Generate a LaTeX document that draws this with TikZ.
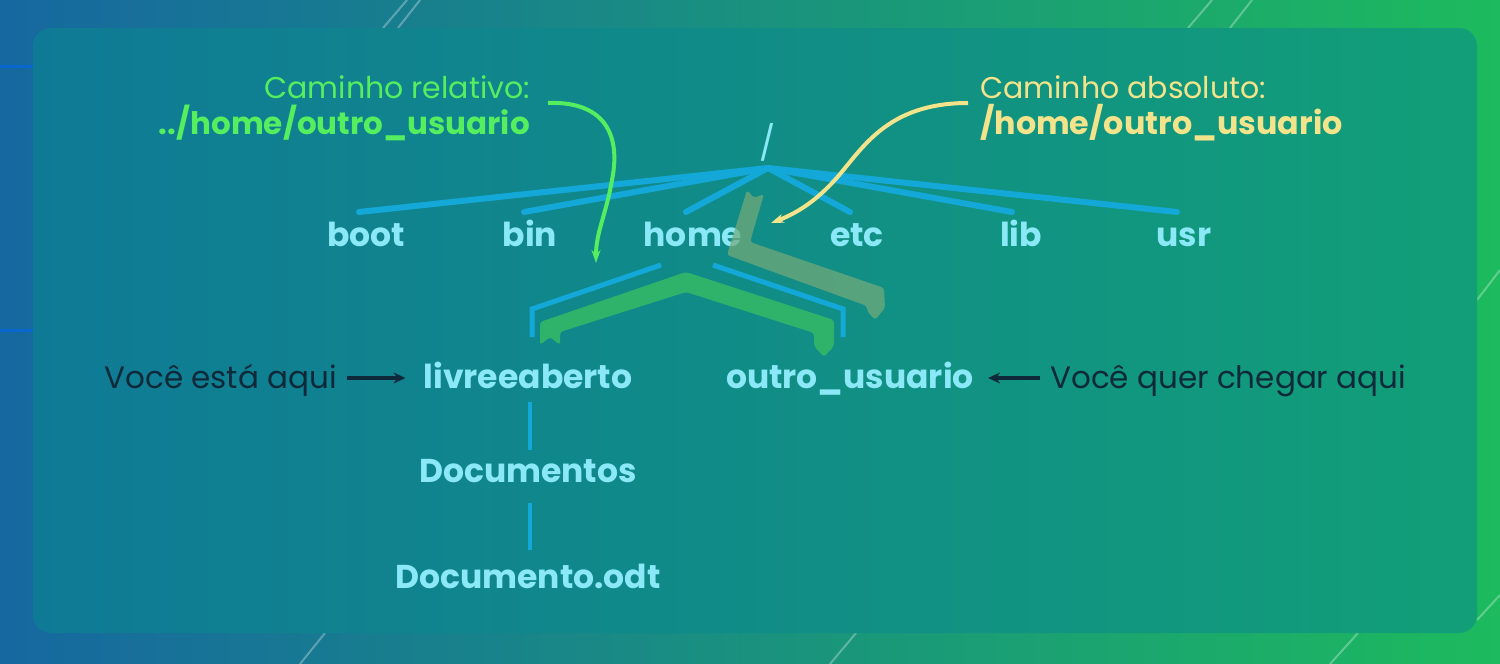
\documentclass[tikz,border=0pt]{standalone}
\usepackage{fontspec}
\setmainfont{Poppins}
\usetikzlibrary{arrows.meta,calc}
\definecolor{bgl}{HTML}{1668A0}
\definecolor{bgr}{HTML}{1DBA5E}
\definecolor{panl}{HTML}{0F7A96}
\definecolor{panr}{HTML}{129F78}
\definecolor{treeblue}{HTML}{14A8D8}
\definecolor{labelcyan}{HTML}{8AE8F7}
\definecolor{relgreen}{HTML}{55EE5F}
\definecolor{absyellow}{HTML}{F3E38A}
\definecolor{darktext}{HTML}{0E2A3A}
\definecolor{bandgreen}{HTML}{2FB36B}
\definecolor{bandtan}{HTML}{73AB7A}
\begin{document}
\begin{tikzpicture}[x=1pt,y=-1pt,
  lbl/.style={font=\bfseries\fontsize{33}{36}\selectfont, text=labelcyan, inner sep=0, anchor=base},
  note/.style={font=\fontsize{31}{36}\selectfont, text=darktext, inner sep=0, anchor=base},
  head/.style={font=\fontsize{30}{36}\selectfont, inner sep=0, anchor=base},
  pathtxt/.style={font=\bfseries\fontsize{31}{36}\selectfont, inner sep=0, anchor=base},
  treeline/.style={draw=treeblue, line width=6, line cap=round},
  subline/.style={draw=treeblue, line width=5},
  darkarrow/.style={draw=darktext, line width=4, -{Stealth[length=12, width=11]}},
  curvearrow/.style={line width=4, -{Stealth[length=13, width=9]}},
  streak/.style={draw=white, opacity=.3, line width=2}]
\useasboundingbox (0,0) rectangle (1500,664);
% background
\shade[left color=bgl, right color=bgr] (0,0) rectangle (1500,664);
\draw[streak] (383,28) -- (407,0);
\draw[streak] (398,28) -- (420,0);
\draw[streak] (1188,28) -- (1212,0);
\draw[streak] (1230,28) -- (1252,0);
\draw[streak] (300,664) -- (325,633);
\draw[streak] (830,664) -- (856,633);
\draw[streak] (1330,664) -- (1358,633);
\draw[streak] (1477,300) -- (1500,270);
\draw[streak] (1477,620) -- (1500,595);
\draw[draw=blue!60!cyan, opacity=.5, line width=3] (0,66) -- (33,66);
\draw[draw=blue!60!cyan, opacity=.5, line width=3] (0,330) -- (33,330);
% panel
\shade[left color=panl, right color=panr, rounded corners=18] (33,28) rectangle (1477,633);

% tree
\node[lbl, font=\fontsize{34}{36}\selectfont] (root) at (768,155) {/};
\coordinate (j) at (768,168);
\node[lbl] (boot) at (366,246) {boot};
\node[lbl] (bin)  at (530,246) {bin};
\node[lbl] (home) at (693,246) {home};
\node[lbl] (etc)  at (857,246) {etc};
\node[lbl] (lib)  at (1021,246) {lib};
\node[lbl] (usr)  at (1184,246) {usr};
\coordinate (eboot) at (359,212);
\coordinate (ebin) at (524,212);
\coordinate (ehome) at (686,212);
\coordinate (eetc) at (850,212);
\coordinate (elib) at (1012,212);
\coordinate (eusr) at (1177,212);
\foreach \e in {eboot,ebin,ehome,eetc,elib,eusr} \draw[treeline] (j) -- (\e);

\node[lbl] (livre) at (528,388) {livreeaberto};
\node[lbl] (outro) at (850,388) {outro\_usuario};
\node[lbl] (docs) at (528,482) {Documentos};
\node[lbl] (odt) at (528,588) {Documento.odt};

\coordinate (hl) at (661,265);
\coordinate (hr) at (713,265);
\draw[subline] (hl) -- (532,309) -- (532,337);
\draw[subline] (hr) -- (843,309) -- (843,337);
\draw[treeblue, line width=4] (530,402) -- (530,450);
\draw[treeblue, line width=4] (530,503) -- (530,550);

% relative path band
\fill[bandgreen, rounded corners=3] (540,345) -- (540,322) -- (686,272) -- (834,320) -- (834,346)
  -- (824,357) -- (814,346) -- (814,333) -- (686,292) -- (560,332) -- (560,345) -- (550,337) -- cycle;

% notes
\node[note, anchor=base east] (here) at (337,388) {Você está aqui};
\node[note, anchor=base west] (there) at (1050,388) {Você quer chegar aqui};
\draw[darkarrow] ($(here.base east)+(10,-10)$) -- ($(livre.base west)+(-18,-10)$);
\draw[darkarrow] ($(there.base west)+(-10,-10)$) -- ($(outro.base east)+(14,-10)$);

% absolute path band
\fill[bandtan, opacity=.72, rounded corners=3] (747,190) -- (754,198) -- (764,194) -- (750,242) -- (884,288)
  -- (885,308) -- (875,320) -- (867,311) -- (867,306) -- (727,255) -- cycle;

% headings
\node[head, text=relgreen, anchor=base east] (rellabel) at (530,98) {Caminho relativo:};
\node[pathtxt, text=relgreen, anchor=base east] (relpath) at (530,134) {../home/outro\_usuario};
\node[head, text=absyellow, anchor=base west] (abslabel) at (980,98) {Caminho absoluto:};
\node[pathtxt, text=absyellow, anchor=base west, font=\bfseries\fontsize{31.8}{36}\selectfont] (abspath) at (980,134) {/home/outro\_usuario};

\coordinate (relend) at (596,263);
\coordinate (absend) at (771,223);
\draw[curvearrow, relgreen] ($(relpath.base east)+(18,-31)$) .. controls (600,101) and (622,130) .. (612,180)
  .. controls (606,215) and (596,232) .. (relend);
\draw[curvearrow, absyellow] ($(abspath.base west)+(-12,-31)$) .. controls (895,103) and (868,140) .. (845,168)
  .. controls (822,197) and (800,212) .. (absend);
\end{tikzpicture}
\end{document}
